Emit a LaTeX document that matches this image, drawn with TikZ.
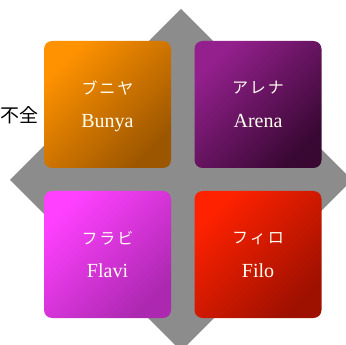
\documentclass[tikz,border=0pt]{standalone}
\usepackage{fontspec}
\setmainfont{Liberation Serif}
\newfontfamily\cjk{Noto Sans CJK JP}
\newfontfamily\cjkw[LetterSpace=12]{Noto Sans CJK JP}
\begin{document}
\begin{tikzpicture}[x=1pt,y=-1pt,
  box/.style={minimum width=127pt,minimum height=127pt,rounded corners=8pt,inner sep=0pt},
  jp/.style={text=white!94!yellow,font=\cjkw\fontsize{16}{16}\selectfont,anchor=center},
  la/.style={text=white!94!yellow,font=\fontsize{20}{20}\selectfont,anchor=base}]
\clip (0,0) rectangle (346,345);
\fill[color={rgb,255:red,140;green,140;blue,140}] (181,9) -- (352,180) -- (181,351) -- (10,180) -- cycle;
\definecolor{bA}{RGB}{255,146,0}\definecolor{bB}{RGB}{156,86,0}
\definecolor{aA}{RGB}{148,32,142}\definecolor{aB}{RGB}{56,8,50}
\definecolor{fA}{RGB}{255,64,255}\definecolor{fB}{RGB}{172,40,176}
\definecolor{iA}{RGB}{255,34,0}\definecolor{iB}{RGB}{158,16,0}
\node[box,top color=bA,bottom color=bB,shading angle=45] (bunya) at (107.5,104.5) {};
\node[box,top color=aA,bottom color=aB,shading angle=45] (arena) at (258,104.5) {};
\node[box,top color=fA,bottom color=fB,shading angle=45] (flavi) at (107.5,254.5) {};
\node[box,top color=iA,bottom color=iB,shading angle=45] (filo) at (258,254.5) {};
\foreach \n/\j/\l in {bunya/ブニヤ/Bunya,arena/アレナ/Arena,flavi/フラビ/Flavi,filo/フィロ/Filo}{
  \node[jp] (\n-jp) at ([yshift=16.5pt]\n.center) {\j};
  \node[la] (\n-la) at ([yshift=-23pt]\n.center) {\l};
}
\node[anchor=east,inner sep=0pt,font=\cjk\fontsize{19}{19}\selectfont] (fz) at (39,115) {不全};
\end{tikzpicture}
\end{document}
